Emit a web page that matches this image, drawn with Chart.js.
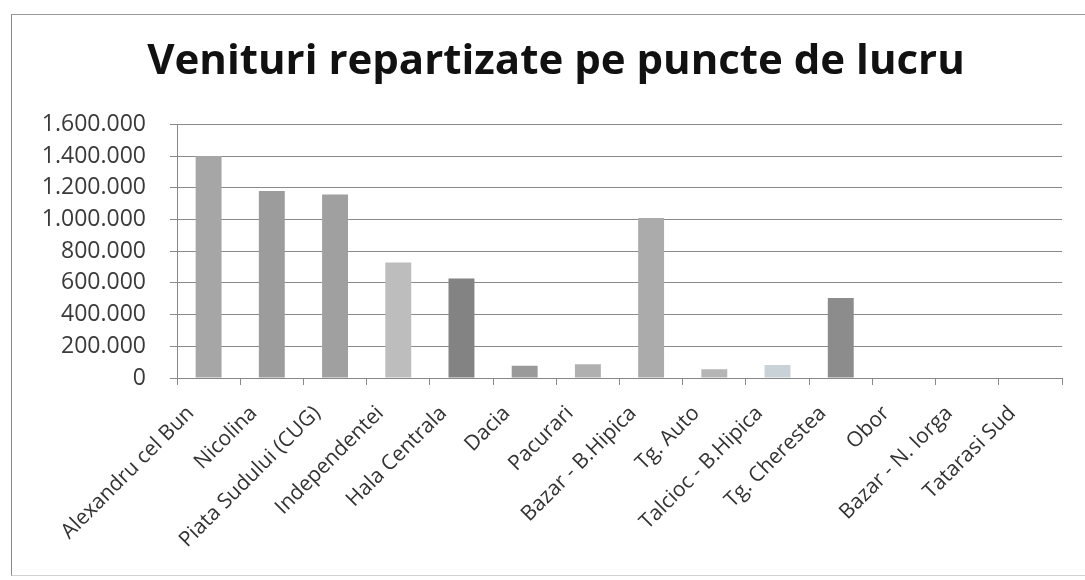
<!DOCTYPE html>
<html>
<head>
<meta charset="utf-8">
<script src="https://cdn.jsdelivr.net/npm/chart.js@4.4.1/dist/chart.umd.min.js"></script>
<style>
  html, body { margin: 0; padding: 0; background: #ffffff; overflow: hidden; }
  #wrap { position: relative; width: 1085px; height: 580px; }
  #frame { position: absolute; left: 11px; top: 14px; width: 1100px; height: 560px;
           border-left: 1px solid #8a8a8a; border-top: 1px solid #9a9a9a; border-bottom: 1px solid #d0d0d0;
           pointer-events: none; }
  canvas { position: absolute; left: 0; top: 0; }
</style>
</head>
<body>
<div id="wrap">
  <canvas id="c" width="1085" height="580"></canvas>
  <div id="frame"></div>
</div>
<script>
const titleText = 'Venituri repartizate pe puncte de lucru';
const categories = ['Alexandru cel Bun', 'Nicolina', 'Piata Sudului (CUG)', 'Independentei', 'Hala Centrala',
  'Dacia', 'Pacurari', 'Bazar - B.Hipica', 'Tg. Auto', 'Talcioc - B.Hipica', 'Tg. Cherestea', 'Obor',
  'Bazar - N. Iorga', 'Tatarasi Sud'];
const venituri = [1400000, 1180000, 1157000, 729000, 628000, 78000, 86000, 1010000, 55000, 82000, 504000, 0, 0, 0];
const barColors = ['#a6a6a6', '#9c9c9c', '#a0a0a0', '#bdbdbd', '#838383', '#9a9a9a', '#b0b0b0', '#ababab',
  '#b5b5b5', '#c9d3d7', '#8c8c8c', '#a0a0a0', '#a0a0a0', '#a0a0a0'];
const yTickValues = [0, 200000, 400000, 600000, 800000, 1000000, 1200000, 1400000, 1600000];
const yTickLabels = ['0', '200.000', '400.000', '600.000', '800.000', '1.000.000', '1.200.000', '1.400.000', '1.600.000'];

const TITLE_LEFT = 50, AREA_LEFT = 177, AREA_RIGHT = 1062, AREA_BOTTOM = 378;

const shiftTitle = {
  id: 'shiftTitle',
  afterLayout(chart) {
    const t = chart.titleBlock;
    if (t) { t.left = TITLE_LEFT; t.width = t.right - t.left; }
  }
};

new Chart(document.getElementById('c'), {
  type: 'bar',
  data: {
    labels: categories,
    datasets: [{
      data: venituri,
      backgroundColor: barColors,
      borderWidth: 0,
      barPercentage: 0.41,
      categoryPercentage: 1.0
    }]
  },
  plugins: [shiftTitle],
  options: {
    responsive: false,
    animation: false,
    layout: { padding: { left: 0, right: 1085 - AREA_RIGHT, top: 0, bottom: 0 } },
    plugins: {
      legend: { display: false },
      tooltip: { enabled: false },
      title: {
        display: true,
        text: titleText,
        color: '#111111',
        font: { family: 'Open Sans', size: 42, weight: 'bold', lineHeight: 1.2 },
        padding: { top: 37, bottom: 37 }
      }
    },
    scales: {
      x: {
        grid: { display: true, drawOnChartArea: false, drawTicks: true, tickLength: 7, color: '#888888', offset: true },
        border: { display: true, color: '#888888', width: 1 },
        ticks: {
          autoSkip: false, maxRotation: 45, minRotation: 45, padding: 16, labelOffset: -18,
          color: '#333333', font: { family: 'Open Sans', size: 21 }
        },
        afterFit: (s) => { s.height = 580 - AREA_BOTTOM; }
      },
      y: {
        min: 0, max: 1600000,
        afterBuildTicks: (s) => { s.ticks = yTickValues.map(v => ({ value: v })); },
        grid: { color: '#8a8a8a', lineWidth: 1, tickLength: 7, drawTicks: true },
        border: { display: true, color: '#888888', width: 1 },
        ticks: {
          padding: 24, color: '#3a3a3a', font: { family: 'Open Sans', size: 23 },
          callback: (v) => { const i = yTickValues.indexOf(v); return i >= 0 ? yTickLabels[i] : ''; }
        },
        afterFit: (s) => { s.width = AREA_LEFT; }
      }
    }
  }
});
</script>
</body>
</html>
